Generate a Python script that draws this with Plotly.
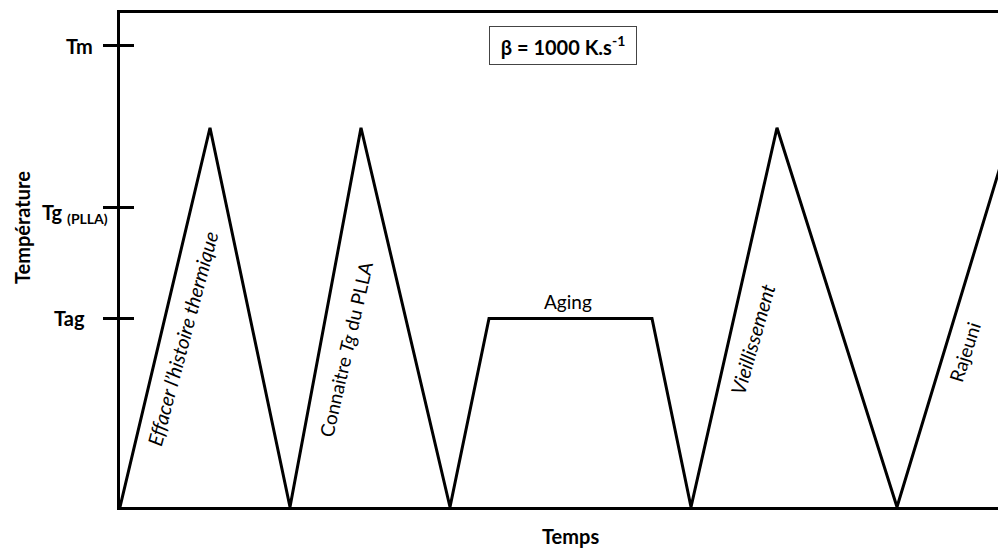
import plotly.graph_objects as go

# ---- data (arbitrary time / temperature units) ----
time_pts = [0, 90, 170, 241, 330, 369, 532, 571, 657, 777, 892]
T_peak = 38.0
T_tag = 18.9
T_g = 30.0
T_m = 46.2
T_base = 0.0
temp_pts = [T_base, T_peak, T_base, T_peak, T_base, T_tag, T_tag, T_base, T_peak, T_base, T_peak]

tick_vals = [T_tag, T_g, T_m]
tick_text = ["Tag", "Tg <sub>(PLLA)</sub>", "Tm"]
tick_xshift = [-33, -10, -25]
tick_yshift = [0, -6, 0]

x_range = [0, 878]
y_range = [0, 49.5]

# step labels: text, x, y, angle, size
step_labels = [
    ("<i>Effacer l’histoire thermique</i>", 62, 16.85, -75, 20),
    ("Connaitre <i>Tg</i> du PLLA", 226, 15.75, -77, 19),
    ("Aging", 448, 20.55, 0, 19),
    ("<i>Vieillissement</i>", 632, 16.75, -74, 20),
    ("Rajeuni", 845, 15.55, -72, 19),
]

FONT = "Lato"

fig = go.Figure()
fig.add_trace(go.Scatter(
    x=time_pts, y=temp_pts, mode="lines",
    line=dict(color="black", width=3), showlegend=False, hoverinfo="skip",
))

annotations = []
for txt, v, xs, ys in zip(tick_text, tick_vals, tick_xshift, tick_yshift):
    annotations.append(dict(
        text=txt, x=0, xref="paper", y=v, yref="y", xanchor="right", yanchor="middle",
        xshift=xs, yshift=ys, showarrow=False,
        font=dict(family=FONT, size=20, color="black", weight="bold"),
    ))

for txt, x, y, ang, sz in step_labels:
    annotations.append(dict(
        text=txt, x=x, y=y, xref="x", yref="y", textangle=ang, showarrow=False,
        xanchor="center", yanchor="middle",
        font=dict(family=FONT, size=sz, color="black"),
    ))

# rate box
annotations.append(dict(
    text="<b>β = 1000 K.s<sup>-1</sup></b>", x=443, y=T_m, xref="x", yref="y",
    showarrow=False, bordercolor="#444", borderwidth=1, borderpad=5,
    width=136, height=27, xanchor="center", yanchor="middle",
    font=dict(family=FONT, size=20, color="black"),
))

# axis titles
annotations.append(dict(
    text="<b>Température</b>", x=0, xref="paper", xshift=-98, y=27.95, yref="y",
    xanchor="center", yanchor="middle",
    textangle=-90, showarrow=False, font=dict(family=FONT, size=20, color="black"),
))
annotations.append(dict(
    text="<b>Temps</b>", x=450, xref="x", y=-0.0596, yref="paper",
    xanchor="center", yanchor="middle",
    showarrow=False, font=dict(family=FONT, size=20, color="black"),
))

fig.update_layout(
    width=998, height=554,
    margin=dict(l=120, r=0, t=12.5, b=46.5),
    paper_bgcolor="white", plot_bgcolor="white",
    showlegend=False,
    xaxis=dict(range=x_range, showline=True, linecolor="black", linewidth=3, mirror=True,
               showgrid=False, zeroline=False, ticks="", showticklabels=False, fixedrange=True),
    yaxis=dict(range=y_range, showline=True, linecolor="black", linewidth=3,
               showgrid=False, zeroline=False, tickvals=tick_vals, ticks="outside",
               ticklen=14, tickwidth=3, tickcolor="black", showticklabels=False, fixedrange=True),
    yaxis2=dict(range=y_range, overlaying="y", side="left", showline=False,
                showgrid=False, zeroline=False, tickvals=tick_vals, ticks="inside",
                ticklen=14, tickwidth=3, tickcolor="black", showticklabels=False, fixedrange=True),
    annotations=annotations,
)
# invisible trace to activate yaxis2 (for the inner half of the tick marks)
fig.add_trace(go.Scatter(x=[None], y=[None], yaxis="y2", showlegend=False, hoverinfo="skip"))

fig.write_html(
    "out.html",
    config={"displayModeBar": False},
    post_script="document.body.style.margin='0';document.body.style.overflow='hidden';",
)
